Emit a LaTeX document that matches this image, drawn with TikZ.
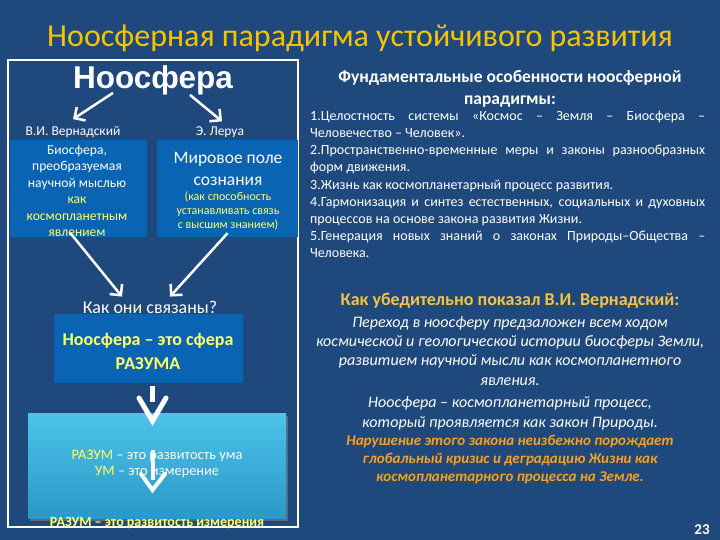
\documentclass[tikz,border=0pt]{standalone}
\usepackage{fontspec}
\setmainfont{Carlito}
\newfontfamily\arialf{Liberation Sans}
\usetikzlibrary{arrows.meta,shadows,calc}
\definecolor{bg}{HTML}{1F497D}
\definecolor{boxblue}{HTML}{0A64B4}
\definecolor{ttl}{HTML}{F5C400}
\definecolor{ylw}{HTML}{FFFF66}
\definecolor{gold}{HTML}{F5C342}
\definecolor{orng}{HTML}{F5A020}
\definecolor{cyantop}{HTML}{4CC4EA}
\definecolor{cyanbot}{HTML}{2A98C8}
\tikzset{
  arr/.style={white, line width=2.5pt, -{Straight Barb[length=8pt,width=16pt]}},
  bluebox/.style={fill=boxblue, draw=none, inner sep=0pt},
  wtxt/.style={text=white, inner sep=0pt, align=center},
}
\begin{document}
\begin{tikzpicture}[x=1pt,y=-1pt]
\fill[bg] (0,0) rectangle (720,540);
\useasboundingbox (0,0) rectangle (720,540);
% title
\node[text=ttl, inner sep=0pt, font=\fontsize{32}{36}\selectfont] (title) at (360,38) {Ноосферная парадигма устойчивого развития};
% frame
\node[draw=white, line width=2pt, minimum width=290pt, minimum height=467pt, inner sep=0pt] (frame) at (153,293.5) {};
% Noosphere heading
\node[text=white, inner sep=0pt, font=\arialf\bfseries\fontsize{31.5}{32}\selectfont] (noo) at (153,80) {Ноосфера};
% labels
\node[wtxt, font=\fontsize{13.5}{14}\selectfont] (vern) at (73,132) {В.И. Вернадский};
\node[wtxt, font=\fontsize{13.5}{14}\selectfont] (lerua) at (220,132) {Э. Леруа};
% boxes
\node[bluebox, minimum width=137pt, minimum height=97pt] (lbox) at (78.5,188.5) {};
\node[bluebox, minimum width=141pt, minimum height=97pt] (rbox) at (227.5,188.5) {};
\node[wtxt, font=\fontsize{13.6}{16.4}\selectfont] (ltxt) at (77,191) {Биосфера,\\ преобразуемая\\ научной мыслью\\ \textcolor{ylw}{как}\\ \textcolor{ylw}{космопланетным}\\ \textcolor{ylw}{явлением}};
\node[wtxt, font=\fontsize{17.5}{22}\selectfont] (rtxt1) at (228,169) {Мировое поле\\ сознания};
\node[wtxt, text=ylw, font=\fontsize{12}{14}\selectfont] (rtxt2) at (228,211) {(как способность\\ устанавливать связь\\ с высшим знанием)};
% arrows from heading
\draw[arr] ($(noo.south)+(-40,-2)$) -- ($(vern.north)+(0,-7)$);
\draw[arr] ($(noo.south)+(37,0)$) -- ($(lerua.north)+(2,-5)$);
% question
\node[wtxt, font=\fontsize{18}{20}\selectfont] (q) at (150,307) {Как они связаны?};
\draw[arr] ($(lbox.south)+(-8,-4)$) -- ($(q.north)+(-28,-4)$);
\draw[arr] ($(rbox.south)+(0,-4)$) -- ($(q.north)+(20,-4)$);
% razum box
\node[bluebox, minimum width=189pt, minimum height=69pt] (rbx) at (148.5,348.5) {};
\node[wtxt, text=ylw, font=\bfseries\fontsize{18}{24}\selectfont] (rbxt) at (148,351) {Ноосфера – это сфера\\ РАЗУМА};
% cyan box
\node[minimum width=258pt, minimum height=105pt, inner sep=0pt, top color=cyantop, bottom color=cyanbot, draw=none,
      drop shadow={shadow xshift=2pt, shadow yshift=-3pt, opacity=0.6}] (cbx) at (157,465.5) {};
\node[wtxt, font=\fontsize{14.4}{16.5}\selectfont] (ctxt) at (157,464) {\textcolor{ylw}{РАЗУМ} – это развитость ума\\ \textcolor{ylw}{УМ} – это измерение};
% thick arrow
\coordinate (a1e) at (152.5,421);
\draw[white, line width=5pt] ($(rbx.south)+(4,3)$) -- (152.5,402);
\draw[white, line width=5pt, line cap=round] (139,398) -- (a1e) -- (166,398);
% thin arrow
\coordinate (a2e) at (152.5,490);
\draw[white, line width=4pt] ($(ctxt.north)+(-4.5,0)$) -- (152.5,480);
\draw[white, line width=4pt, line cap=round] (141,474) -- (a2e) -- (165,474);
\node[wtxt, text=ylw, font=\bfseries\fontsize{14}{14}\selectfont] (last) at (157,523) {РАЗУМ – это развитость измерения};
% right column heading
\node[wtxt, font=\bfseries\fontsize{17.5}{22}\selectfont] (fh) at (510,89) {Фундаментальные особенности ноосферной\\ парадигмы:};
% list
\node[text=white, inner sep=0pt, align=left, anchor=north west, font=\fontsize{14}{17.1}\selectfont] (list) at (310,111) {%
\makebox[395pt][s]{1.Целостность системы «Космос – Земля – Биосфера –}\\
Человечество – Человек».\\
\makebox[395pt][s]{2.Пространственно-временные меры и законы разнообразных}\\
форм движения.\\
3.Жизнь как космопланетарный процесс развития.\\
\makebox[395pt][s]{4.Гармонизация и синтез естественных, социальных и духовных}\\
процессов на основе закона развития Жизни.\\
\makebox[395pt][s]{5.Генерация новых знаний о законах Природы–Общества –}\\
Человека.};
% Vernadsky block
\node[wtxt, text=gold, font=\bfseries\fontsize{18}{18}\selectfont] (vh) at (510,301) {Как убедительно показал В.И. Вернадский:};
\node[wtxt, font=\itshape\fontsize{16}{19.3}\selectfont] (p1) at (510,351) {Переход в ноосферу предзаложен всем ходом\\ космической и геологической истории биосферы Земли,\\ развитием научной мысли как космопланетного\\ явления.};
\node[wtxt, font=\itshape\fontsize{16}{20}\selectfont] (p2) at (510,413) {Ноосфера – космопланетарный процесс,\\ который проявляется как закон Природы.};
\node[wtxt, text=orng, font=\bfseries\itshape\fontsize{15}{18}\selectfont] (p3) at (510,460) {Нарушение этого закона неизбежно порождает\\ глобальный кризис и деградацию Жизни как\\ космопланетарного процесса на Земле.};
\node[wtxt, font=\bfseries\fontsize{15}{16}\selectfont] (num) at (702,530) {23};
\end{tikzpicture}
\end{document}
